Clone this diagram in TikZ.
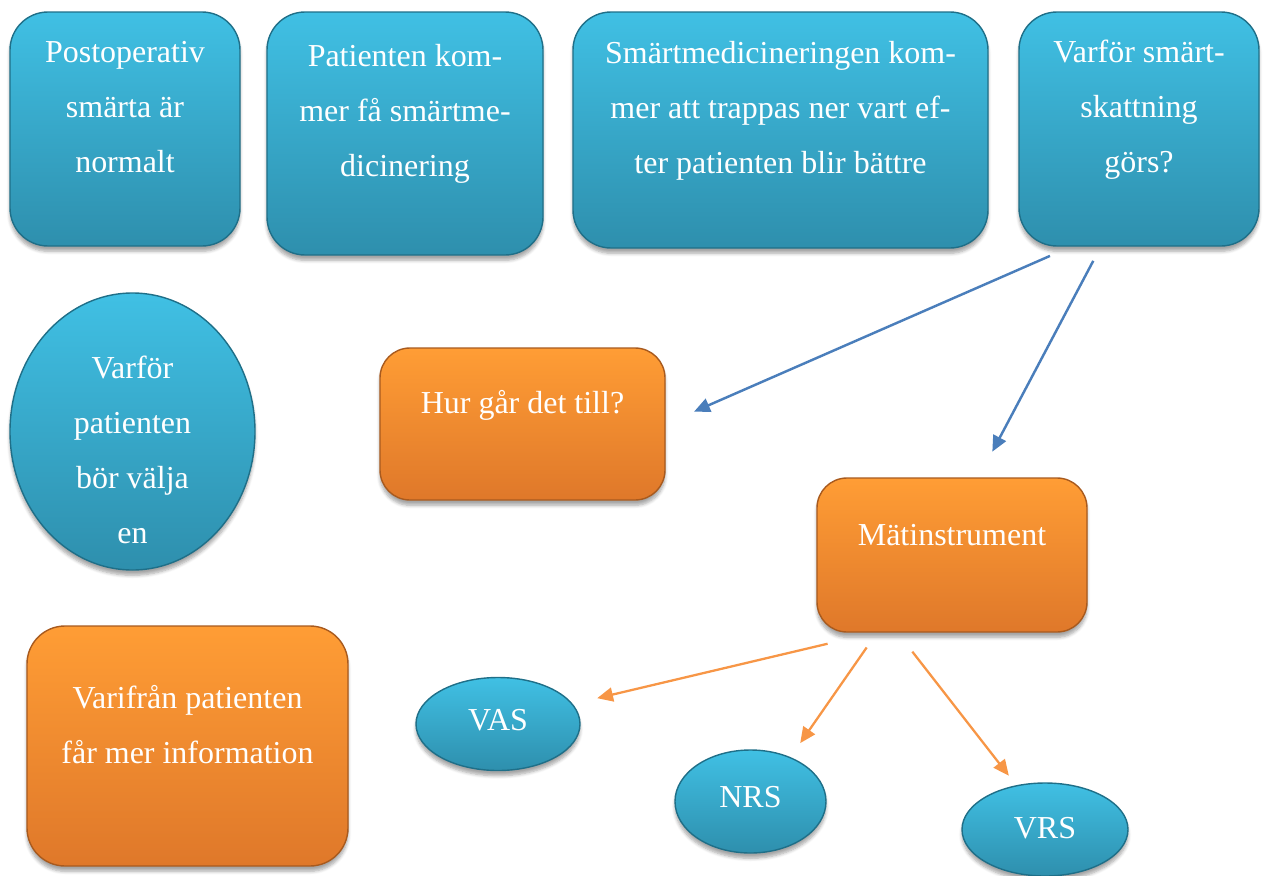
\documentclass[tikz,border=0pt]{standalone}
\usepackage{fontspec}
\setmainfont{Liberation Serif}
\usetikzlibrary{shapes.geometric,arrows.meta,shadows.blur}

\newdimen\pxd \pxd=0.02cm
\definecolor{bluetop}{HTML}{40C0E4}
\definecolor{bluebot}{HTML}{2E8FAD}
\definecolor{blueedge}{HTML}{1F6F88}
\definecolor{orgtop}{HTML}{FF9D35}
\definecolor{orgbot}{HTML}{DF782A}
\definecolor{orgedge}{HTML}{A85A1E}
\definecolor{arrblue}{HTML}{4A7EBB}
\definecolor{arrorg}{HTML}{F79646}
\newcommand{\boxtxt}[3]{\raisebox{#1\pxd}[0pt][0pt]{\makebox[0pt]{\parbox{#2\pxd}{\centering #3}}}}

\begin{document}
\begin{tikzpicture}[x=0.02cm, y=0.02cm]
  \tikzset{every node/.style={inner sep=0pt, text=white, font=\fontsize{18.2}{31.3}\selectfont},
    shade/.style={blur shadow={shadow xshift=0pt, shadow yshift=-3pt, shadow blur steps=6, shadow opacity=35}, line width=0.8pt},
    bluebox/.style={shade, rectangle, rounded corners=38*\pxd, top color=bluetop, bottom color=bluebot, draw=blueedge},
    orgbox/.style={shade, rectangle, rounded corners=30*\pxd, top color=orgtop, bottom color=orgbot, draw=orgedge},
    blueoval/.style={shade, ellipse, top color=bluetop, bottom color=bluebot, draw=blueedge},
    bluearr/.style={draw=arrblue, line width=1.4pt, -{Triangle[length=9pt,width=8pt]}},
    orgarr/.style={draw=arrorg, line width=1.3pt, -{Triangle[length=9pt,width=8pt]}}}
  \useasboundingbox (0,0) rectangle (1265,-876);
  \node [bluebox, minimum width=230*\pxd, minimum height=234*\pxd] (post) at (125,-129)
    {\boxtxt{14}{220}{Postoperativ\\smärta är\\normalt}};
  \node [bluebox, minimum width=276*\pxd, minimum height=243*\pxd] (komm) at (405,-133.5)
    {\boxtxt{12.5}{266}{Patienten kom-\\mer få smärtme-\\dicinering}};
  \node [bluebox, minimum width=415*\pxd, minimum height=236*\pxd] (trapp) at (780.5,-130)
    {\boxtxt{12}{405}{Smärtmedicineringen kom-\\mer att trappas ner vart ef-\\ter patienten blir bättre}};
  \node [bluebox, minimum width=240*\pxd, minimum height=234*\pxd] (skatt) at (1139,-129)
    {\boxtxt{12}{230}{Varför smärt-\\skattning\\görs?}};
  \node [blueoval, minimum width=245*\pxd, minimum height=277*\pxd] (valj) at (132.5,-431.5)
    {\boxtxt{-26}{200}{Varför\\patienten\\bör välja\\en}};
  \node [orgbox, minimum width=285*\pxd, minimum height=152*\pxd] (hur) at (522.5,-424)
    {\boxtxt{11}{275}{Hur går det till?}};
  \node [orgbox, minimum width=270*\pxd, minimum height=154*\pxd] (mat) at (952,-555)
    {\boxtxt{12}{260}{Mätinstrument}};
  \node [orgbox, rounded corners=38*\pxd, minimum width=321*\pxd, minimum height=240*\pxd] (info) at (187.5,-746)
    {\boxtxt{14}{311}{Varifrån patienten\\får mer information}};
  \node [blueoval, minimum width=164*\pxd, minimum height=93*\pxd] (vas) at (498,-724)
    {\boxtxt{-4}{140}{VAS}};
  \node [blueoval, minimum width=151*\pxd, minimum height=103*\pxd] (nrs) at (750.5,-801.5)
    {\boxtxt{-3}{130}{NRS}};
  \node [blueoval, minimum width=166*\pxd, minimum height=93*\pxd] (vrs) at (1045,-829.5)
    {\boxtxt{-6}{140}{VRS}};
  \draw [bluearr, shorten <=23*\pxd, shorten >=31*\pxd] (skatt.240) -- (hur.east);
  \draw [bluearr, shorten <=16*\pxd, shorten >=29*\pxd] (skatt.252) -- (mat.71);
  \draw [orgarr, shorten <=48*\pxd, shorten >=25*\pxd] (mat.225) -- (vas.15);
  \draw [orgarr, shorten <=18*\pxd, shorten >=17*\pxd] (mat.226) -- (nrs.48);
  \draw [orgarr, shorten <=24*\pxd, shorten >=12*\pxd] (mat.235) -- (vrs.123);
\end{tikzpicture}
\end{document}
